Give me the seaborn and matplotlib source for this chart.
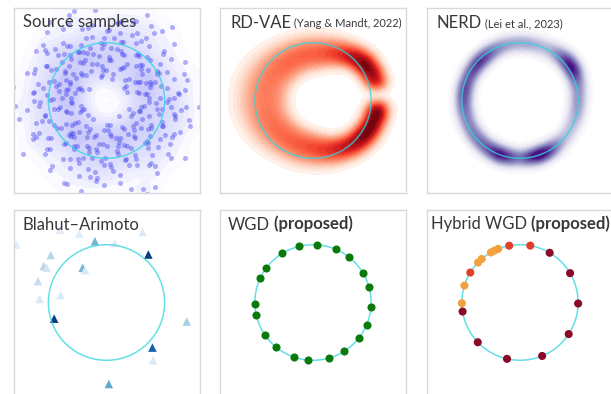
import numpy as np
import pandas as pd
import matplotlib
matplotlib.use("Agg")
import matplotlib.pyplot as plt
from matplotlib.patches import Circle
import seaborn as sns

# ---- Source samples (polar coords, degrees / radius) ----
src_angle = [
    3, 6, 10, 12, 16, 19, 21, 25, 28, 31, 33, 37, 40, 43, 45, 49, 52, 54, 58, 61,
    63, 67, 70, 72, 76, 79, 82, 84, 88, 91, 93, 97, 100, 103, 105, 109, 112, 114, 118, 121,
    124, 126, 130, 133, 135, 139, 142, 145, 147, 151, 154, 156, 160, 163, 166, 168, 172, 175, 177, 181,
    184, 187, 189, 193, 196, 198, 202, 205, 208, 210, 214, 217, 219, 223, 226, 229, 231, 235, 238, 240,
    244, 247, 250, 252, 256, 259, 261, 265, 268, 271, 273, 277, 280, 282, 286, 289, 292, 294, 298, 301,
    303, 307, 310, 313, 315, 319, 322, 324, 328, 331, 334, 336, 340, 343, 345, 349, 352, 355, 357, 359,
    1, 4, 8, 13, 15, 18, 23, 26, 29, 34, 36, 41, 44, 47, 50, 55, 57, 60, 64, 66,
    69, 74, 77, 80, 85, 87, 90, 95, 98, 101, 106, 108, 111, 116, 119, 122, 127, 129, 132, 137,
    140, 143, 148, 150, 153, 158, 161, 164, 169, 171, 174, 179, 182, 185, 190, 192, 195, 200, 203, 206,
    211, 213, 216, 221, 224, 227, 232, 234, 237, 242, 245, 248, 253, 255, 258, 263, 266, 269, 274, 276,
    279, 284, 287, 290, 295, 297, 300, 305, 308, 311, 316, 318, 321, 326, 329, 332, 337, 339, 342, 347,
    350, 353, 358, 7, 38, 65, 99, 131, 157, 186, 218, 243, 270, 299, 327, 356, 22, 110, 201, 290,
    2.5, 9.5, 14.5, 20.5, 27.5, 32.5, 39.5, 46.5, 51.5, 56.5, 62.5, 68.5, 73.5, 81.5, 86.5, 92.5, 96.5, 104.5, 107.5, 113.5,
    117.5, 123.5, 128.5, 134.5, 138.5, 144.5, 149.5, 152.5, 159.5, 162.5, 167.5, 173.5, 178.5, 183.5, 188.5, 194.5, 199.5, 204.5, 209.5, 215.5,
    220.5, 225.5, 230.5, 236.5, 239.5, 246.5, 251.5, 257.5, 260.5, 264.5, 272.5, 275.5, 281.5, 285.5, 291.5, 296.5, 302.5, 306.5, 312.5, 317.5,
    320.5, 325.5, 330.5, 335.5, 341.5, 346.5, 351.5, 354.5, 11.5, 35.5, 48.5, 75.5, 89.5, 102.5, 125.5, 146.5, 170.5, 191.5, 212.5, 233.5,
    254.5, 278.5, 293.5, 309.5, 323.5, 338.5, 5.5, 42.5, 83.5, 115.5, 141.5, 165.5, 197.5, 228.5, 262.5, 283.5, 314.5, 344.5, 17.5, 59.5,
    94.5, 136.5, 176.5, 207.5, 249.5, 288.5, 333.5, 24.5, 71.5, 120.5, 155.5, 180.5, 222.5, 267.5, 304.5, 348.5, 30.5, 78.5, 160.5, 241.5,
]
src_radius = [
    0.93, 1.24, 0.68, 1.07, 0.55, 1.41, 0.82, 1.15, 0.99, 0.63, 1.33, 0.77, 1.52, 1.02, 0.87, 0.48, 1.19, 0.95, 1.28, 0.72,
    1.11, 0.60, 1.46, 0.84, 1.04, 0.91, 1.36, 0.70, 1.22, 0.53, 0.98, 1.58, 0.79, 1.13, 0.66, 1.31, 0.89, 1.06, 0.57, 1.44,
    0.81, 1.17, 0.94, 0.64, 1.26, 1.01, 0.74, 1.49, 0.86, 1.09, 0.51, 1.35, 0.97, 0.69, 1.21, 0.83, 1.62, 1.03, 0.76, 1.14,
    0.59, 1.38, 0.92, 1.08, 0.71, 1.27, 0.45, 1.00, 1.43, 0.80, 1.16, 0.62, 1.32, 0.88, 1.05, 0.73, 1.55, 0.96, 1.20, 0.56,
    1.12, 0.85, 1.39, 0.67, 1.02, 0.90, 1.25, 0.52, 1.47, 0.78, 1.10, 0.61, 1.30, 0.95, 0.75, 1.18, 1.66, 0.87, 1.06, 0.58,
    1.34, 0.82, 1.23, 0.69, 0.99, 1.41, 0.64, 1.13, 0.91, 1.29, 0.50, 1.07, 0.77, 1.51, 0.93, 1.19, 0.65, 1.37, 0.86, 1.04,
    1.08, 0.74, 1.36, 0.58, 0.97, 1.23, 0.81, 1.50, 0.66, 1.12, 0.89, 1.31, 0.54, 1.03, 0.78, 1.42, 0.94, 1.18, 0.62, 1.27,
    0.85, 1.05, 0.47, 1.39, 0.92, 0.71, 1.20, 1.00, 0.60, 1.33, 0.83, 1.14, 0.68, 1.48, 0.96, 0.76, 1.25, 0.57, 1.09, 0.88,
    1.37, 0.65, 1.02, 1.21, 0.79, 0.53, 1.45, 0.90, 1.11, 0.70, 1.28, 0.98, 0.61, 1.16, 0.84, 1.54, 0.73, 1.06, 0.49, 1.30,
    0.91, 1.19, 0.67, 1.40, 0.80, 1.01, 0.56, 1.26, 0.94, 0.72, 1.60, 1.08, 0.63, 1.22, 0.86, 1.35, 0.75, 0.99, 1.15, 0.59,
    1.44, 0.82, 1.07, 0.69, 1.24, 0.93, 0.52, 1.32, 0.78, 1.10, 0.64, 1.49, 0.97, 0.87, 1.17, 0.70, 1.38, 1.03, 0.60, 1.21,
    0.89, 1.29, 0.74, 1.70, 0.42, 1.64, 0.44, 1.57, 0.46, 1.68, 0.40, 1.61, 0.43, 1.72, 0.50, 1.59, 0.38, 1.65, 0.41, 1.75,
    1.16, 0.71, 1.43, 0.89, 1.02, 0.58, 1.27, 0.84, 1.53, 0.97, 0.66, 1.21, 0.90, 1.36, 0.75, 1.08, 0.53, 1.30, 0.95, 1.62,
    0.79, 1.13, 1.00, 0.61, 1.45, 0.88, 1.19, 0.70, 1.34, 1.04, 0.56, 1.25, 0.92, 1.57, 0.81, 1.10, 0.65, 1.39, 0.98, 0.73,
    1.28, 0.86, 1.47, 1.01, 0.63, 1.18, 0.94, 1.35, 0.77, 1.06, 0.51, 1.23, 0.90, 1.58, 0.83, 1.14, 0.68, 1.41, 0.99, 1.20,
    0.76, 1.32, 0.87, 1.05, 0.59, 1.46, 0.96, 1.12, 1.78, 0.36, 1.69, 0.39, 1.73, 0.41, 1.66, 0.37, 1.80, 0.44, 1.71, 0.40,
    1.63, 0.43, 1.76, 0.35, 1.67, 0.42, 1.26, 0.80, 1.09, 0.93, 1.31, 0.72, 1.17, 0.85, 1.40, 0.67, 1.03, 1.22, 0.78, 1.50,
    0.91, 1.15, 0.62, 1.37, 0.88, 1.07, 1.29, 0.74, 1.44, 0.97, 0.69, 1.24, 0.83, 1.11, 1.52, 0.60, 1.01, 1.19, 0.86, 1.33,
]

# ---- RD-VAE density: ring anchors (angle, centre radius, radial spread, weight) ----
rd_angle = [16, 26, 36, 46, 56, 66, 76, 86, 96, 106, 116, 126, 136, 146, 156, 166, 176, 186,
            196, 206, 216, 226, 236, 246, 256, 266, 276, 286, 296, 306, 316, 326, 336, 346, 354]
rd_radius = [1.14, 1.12, 1.10, 1.05, 0.98, 0.92, 0.88, 0.86, 0.85, 0.85, 0.85, 0.86, 0.88, 0.90, 0.92, 0.93, 0.93, 0.93,
             0.92, 0.90, 0.88, 0.86, 0.85, 0.85, 0.85, 0.86, 0.88, 0.92, 0.96, 1.01, 1.05, 1.08, 1.10, 1.12, 1.13]
rd_spread = [0.12, 0.13, 0.15, 0.17, 0.20, 0.23, 0.26, 0.27, 0.28, 0.29, 0.30, 0.32, 0.34, 0.36, 0.38, 0.40, 0.40, 0.40,
             0.38, 0.36, 0.34, 0.32, 0.30, 0.29, 0.28, 0.27, 0.26, 0.23, 0.20, 0.18, 0.16, 0.14, 0.13, 0.12, 0.12]
rd_weight = [1.5, 1.8, 1.9, 1.7, 1.45, 1.3, 1.2, 1.15, 1.15, 1.15, 1.2, 1.25, 1.3, 1.35, 1.4, 1.45, 1.45, 1.45,
             1.4, 1.35, 1.3, 1.25, 1.2, 1.2, 1.2, 1.25, 1.3, 1.35, 1.45, 1.55, 1.7, 1.9, 1.9, 1.8, 1.4]
rd_offset = [-1.0, -0.5, 0.0, 0.5, 1.0]
rd_offset_w = [0.4, 0.8, 1.0, 0.8, 0.4]

# ---- NERD density: ring anchors ----
nerd_angle = list(range(0, 360, 10))
nerd_radius = [1.00, 1.02, 1.04, 1.06, 1.06, 1.04, 1.02, 1.00, 1.00, 1.00, 1.00, 0.99, 0.98, 0.97, 0.97, 0.97, 0.97, 0.97,
               0.97, 0.97, 0.97, 0.98, 0.98, 0.99, 0.99, 1.00, 1.00, 1.00, 1.00, 1.00, 1.00, 1.00, 1.00, 1.00, 1.00, 1.00]
nerd_weight = [1.0, 1.0, 1.3, 1.9, 1.8, 1.2, 0.8, 0.8, 0.9, 0.9, 0.9, 1.0, 1.2, 1.5, 1.5, 1.3, 1.3, 1.4,
               1.3, 1.2, 1.1, 1.1, 1.2, 1.3, 1.5, 1.9, 1.5, 1.1, 1.6, 2.0, 1.6, 1.0, 0.7, 0.7, 0.8, 0.9]

# ---- Blahut-Arimoto support points ----
ba_x = [-0.20, 0.72, -0.41, -0.90, 0.79, 1.38, 0.04, -0.96, -1.08, -1.18,
        -1.15, -0.79, -1.55, -0.47, 0.14, 0.62, 0.80, -0.80, -0.37, -1.03]
ba_y = [1.06, 0.83, 0.60, -0.28, -0.78, -0.33, -1.41, 0.82, 0.63, 0.37,
        0.06, 0.13, 1.00, 1.19, 1.03, 1.22, -1.00, 1.26, 0.56, 0.60]
ba_weight = [0.50, 1.00, 0.50, 1.00, 0.85, 0.35, 0.55, 0.30, 0.30, 0.25,
             0.15, 0.15, 0.12, 0.12, 0.12, 0.15, 0.15, 0.12, 0.15, 0.20]

# ---- WGD particles (angle on unit circle) ----
wgd_angle = [85.7, 66.8, 52.2, 30.2, 15.3, -4.6, -22.7, -38.1, -57.9, -74.3,
             -94.8, -109.5, -129.1, -145.8, -167.7, -179.0, 154.9, 143.2, 122.0, 104.1]

# ---- Hybrid WGD particles ----
hyb_angle = [79.8, 100.7, 148.8, 112.0, 116.0, 120.0, 131.2, 136.2, 163.0, 180.7,
             59.3, 30.5, -1.0, -33.1, -67.6, -102.9, -136.6, -171.0]
hyb_group = ["red", "red", "red", "orange", "orange", "orange", "orange", "orange", "orange", "orange",
             "dark", "dark", "dark", "dark", "dark", "dark", "dark", "dark"]
hyb_colors = {"orange": "#f5a03e", "red": "#e3402b", "dark": "#8a0a27"}

sns.set_style("white")
plt.rcParams["font.family"] = ["Lato", "DejaVu Sans"]

W, H = 611, 394
fig = plt.figure(figsize=(W / 100, H / 100), dpi=100)

col_left = [13.5, 220, 427]
row_bottom = [201, -1]
PW, PH = 186, 185
LIM = 1.6
TXT = "#383838"
FS = 12


def make_ax(row, col):
    return fig.add_axes([col_left[col] / W, row_bottom[row] / H, PW / W, PH / H])


def finish(ax):
    ax.set_xlim(-LIM, LIM)
    ax.set_ylim(-LIM, LIM)
    ax.set_xticks([])
    ax.set_yticks([])
    ax.set_xlabel("")
    ax.set_ylabel("")
    for s in ax.spines.values():
        s.set_color("#d9d9d9")
        s.set_linewidth(1.0)
    ax.add_patch(Circle((0, 0), 1.0, fill=False, color="#30d5e0", alpha=0.75, lw=1.1, zorder=5))


def title(ax, xoff, main, extra=None, extra_size=FS, extra_bold=False, dy=0.0):
    t = ax.text(xoff / PW, 1 - 19.5 / PH, main, transform=ax.transAxes, fontsize=FS,
                color=TXT, va="baseline", zorder=10)
    if extra:
        ax.annotate(extra, xy=(1, 0), xycoords=t, xytext=(0, dy), textcoords="offset points",
                    va="bottom", ha="left", fontsize=extra_size, color=TXT,
                    fontweight="bold" if extra_bold else "normal", zorder=10)


def ring_points(angle, radius):
    a = np.deg2rad(np.asarray(angle, dtype=float))
    r = np.asarray(radius, dtype=float)
    return r * np.cos(a), r * np.sin(a)


# Source samples
ax = make_ax(0, 0)
sx, sy = ring_points(src_angle, src_radius)
haze = sns.blend_palette(["#ffffff", "#c6c6fa"], as_cmap=True)
sns.kdeplot(x=sx, y=sy, fill=True, cmap=haze, levels=12, thresh=0.03,
            bw_adjust=0.6, antialiased=False, ax=ax)
sns.scatterplot(x=sx, y=sy, s=13, color="#3535f0", alpha=0.38, linewidth=0, ax=ax)
finish(ax)
title(ax, 9.5, "Source samples")

# RD-VAE
ax = make_ax(0, 1)
rows = []
for a, r, sp, w in zip(rd_angle, rd_radius, rd_spread, rd_weight):
    for o, ow in zip(rd_offset, rd_offset_w):
        rows.append((a, r + o * sp, w * ow))
rd = pd.DataFrame(rows, columns=["angle", "radius", "weight"])
rd["x"], rd["y"] = ring_points(rd["angle"], rd["radius"])
sns.kdeplot(data=rd, x="x", y="y", weights="weight", fill=True, cmap="Reds",
            levels=30, thresh=0.02, bw_method=0.17, gridsize=200, ax=ax)
finish(ax)
title(ax, 10, "RD-VAE", " (Yang & Mandt, 2022)", extra_size=8, dy=1.0)

# NERD
ax = make_ax(0, 2)
nerd = pd.DataFrame({"angle": nerd_angle, "radius": nerd_radius, "weight": nerd_weight})
nerd["x"], nerd["y"] = ring_points(nerd["angle"], nerd["radius"])
sns.kdeplot(data=nerd, x="x", y="y", weights="weight", fill=True, cmap="Purples",
            levels=30, thresh=0.02, bw_method=0.16, gridsize=200, ax=ax)
finish(ax)
title(ax, 9.5, "NERD", " (Lei et al., 2023)", extra_size=8, dy=1.0)

# Blahut-Arimoto
ax = make_ax(1, 0)
ba = pd.DataFrame({"x": ba_x, "y": ba_y, "w": ba_weight})
sns.scatterplot(data=ba, x="x", y="y", hue="w", palette="Blues", hue_norm=(0, 1.05),
                marker="^", s=38, linewidth=0, legend=False, ax=ax)
finish(ax)
title(ax, 9.5, "Blahut–Arimoto")

# WGD
ax = make_ax(1, 1)
wx, wy = ring_points(wgd_angle, [1.0] * len(wgd_angle))
sns.scatterplot(x=wx, y=wy, s=34, color="#0b7a0b", linewidth=0, zorder=6, ax=ax)
finish(ax)
title(ax, 7.5, "WGD", " (proposed)", extra_bold=True)

# Hybrid WGD
ax = make_ax(1, 2)
hx, hy = ring_points(hyb_angle, [1.0] * len(hyb_angle))
hyb = pd.DataFrame({"x": hx, "y": hy, "group": hyb_group})
sns.scatterplot(data=hyb, x="x", y="y", hue="group", palette=hyb_colors, s=34,
                linewidth=0, legend=False, zorder=6, ax=ax)
finish(ax)
title(ax, 4.0, "Hybrid WGD", " (proposed)", extra_bold=True)

fig.savefig("out.png", dpi=100)
